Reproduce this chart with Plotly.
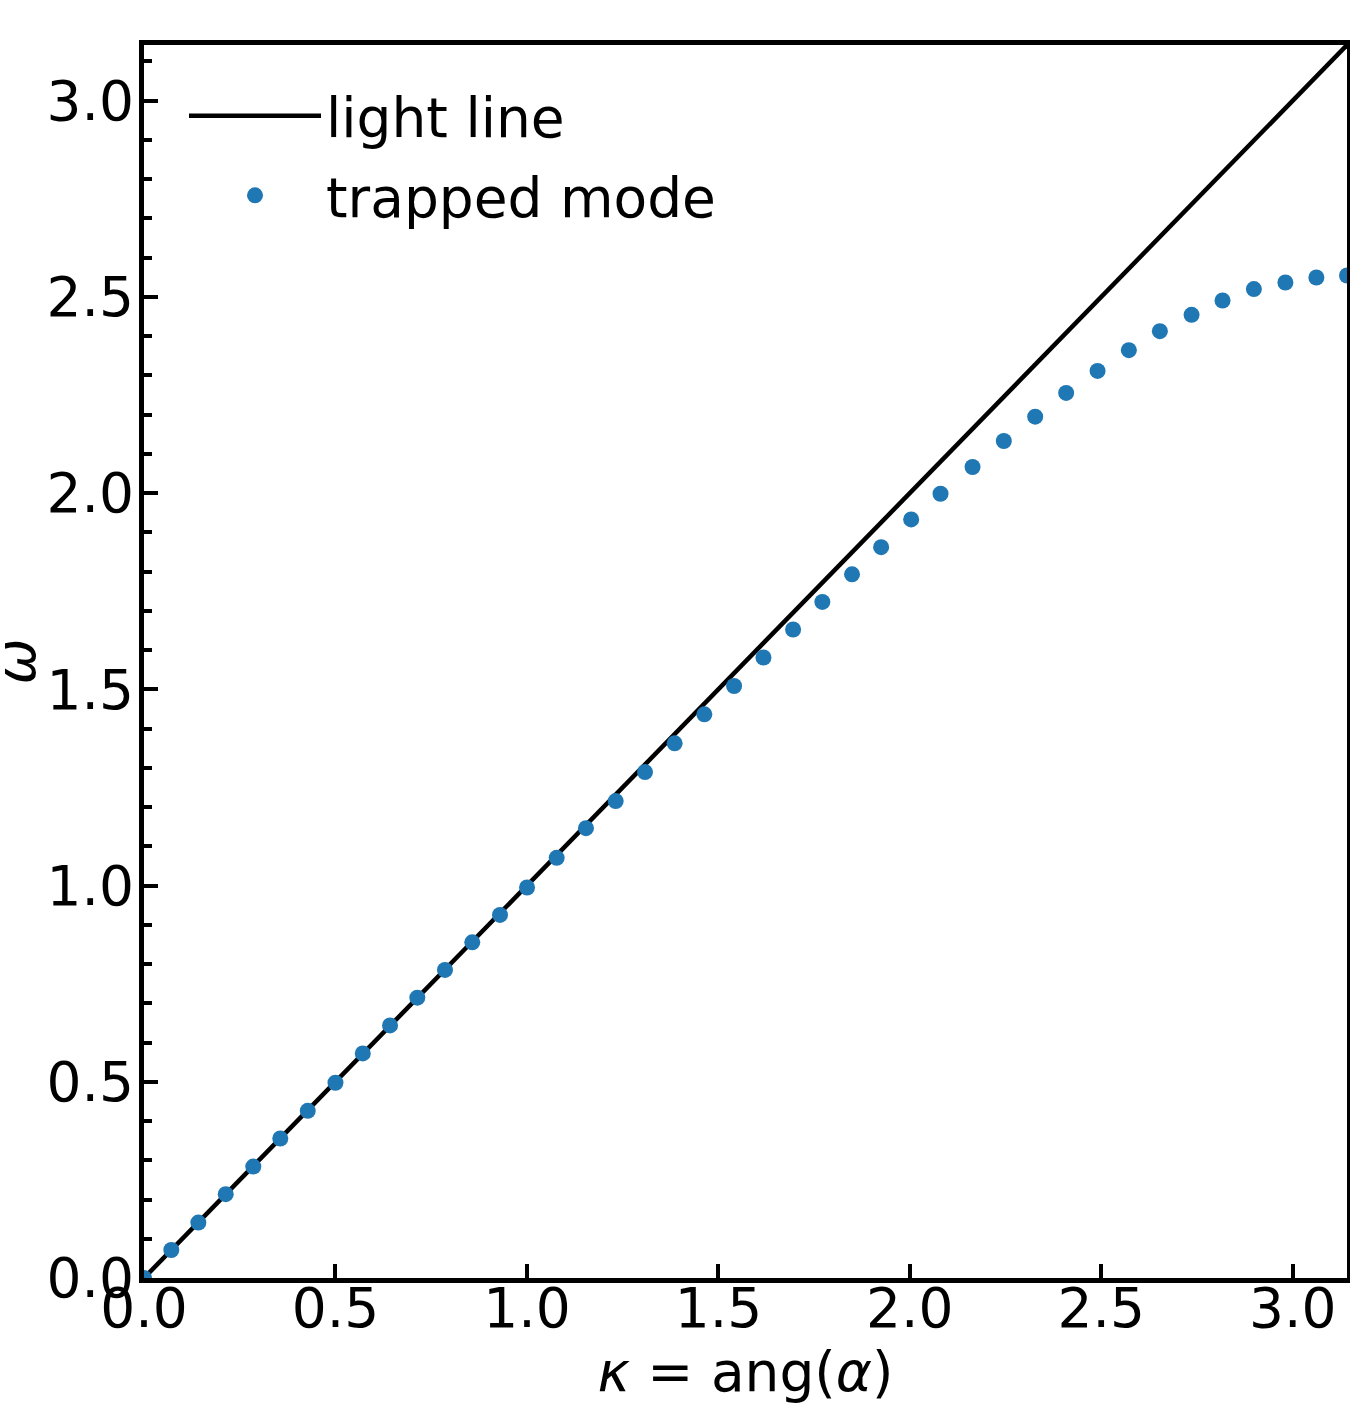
import math
import plotly.graph_objects as go

# ---- data ----
light_x = [0.0, math.pi]
light_y = [0.0, math.pi]

mode_kappa = [0.0, 0.0713, 0.1419, 0.2134, 0.2854, 0.3559, 0.4276, 0.5000, 0.5713, 0.6425,
              0.7138, 0.7860, 0.8573, 0.9297, 1.0003, 1.0777, 1.1542, 1.2318, 1.3084,
              1.3858, 1.4633, 1.5410, 1.6177, 1.6951, 1.7715, 1.8490, 1.9250, 2.0034,
              2.0801, 2.1637, 2.2454, 2.3273, 2.4082, 2.4902, 2.5719, 2.6529, 2.7357,
              2.8166, 2.8984, 2.9807, 3.0616, 3.1416]
mode_omega = [0.0, 0.0714, 0.1411, 0.2135, 0.2840, 0.3554, 0.4260, 0.4974, 0.5722, 0.6436,
              0.7143, 0.7849, 0.8553, 0.9252, 0.9949, 1.0706, 1.1462, 1.2151, 1.2890,
              1.3622, 1.4362, 1.5084, 1.5809, 1.6523, 1.7227, 1.7930, 1.8620, 1.9329,
              1.9982, 2.0663, 2.1327, 2.1946, 2.2551, 2.3112, 2.3640, 2.4125, 2.4541,
              2.4906, 2.5196, 2.5365, 2.5492, 2.5543]

x_ticks = [0.0, 0.5, 1.0, 1.5, 2.0, 2.5, 3.0]
y_ticks = [0.0, 0.5, 1.0, 1.5, 2.0, 2.5, 3.0]

FONT = "DejaVu Sans"
FS = 55

fig = go.Figure()
fig.add_trace(go.Scatter(x=light_x, y=light_y, mode="lines", name="light line",
                         legendgroup="a",
                         line=dict(color="black", width=4.5)))
fig.add_trace(go.Scatter(x=mode_kappa, y=mode_omega, mode="markers", name="trapped mode",
                         legendgroup="b",
                         marker=dict(color="#1f77b4", size=16, line=dict(width=0)),
                         cliponaxis=True))

axis_common = dict(
    range=[0, math.pi],
    showline=True, linecolor="black", linewidth=5, mirror=True,
    ticks="inside", ticklen=14, tickwidth=3.5, tickcolor="black",
    showgrid=False, zeroline=False,
    tickfont=dict(family=FONT, size=FS, color="black"),
    tickformat=".1f",
)

fig.update_xaxes(**axis_common, tickvals=x_ticks, ticklabelstandoff=-22,
                 title=dict(text="<i>κ</i> = ang(<i>α</i>)",
                            font=dict(family=FONT, size=FS, color="black"),
                            standoff=0))
fig.update_yaxes(**axis_common, tickvals=y_ticks, ticklabelstandoff=-6,
                 minor=dict(dtick=0.1, tick0=0, ticks="inside", ticklen=8,
                            tickwidth=3.5, tickcolor="black", showgrid=False))

fig.add_annotation(text="<i>ω</i>", xref="paper", yref="paper",
                   x=(15 - 144) / 1203, y=0.5, xanchor="center", yanchor="middle",
                   textangle=-90, showarrow=False,
                   font=dict(family=FONT, size=FS, color="black"))

fig.update_layout(
    width=1350, height=1404,
    margin=dict(l=144, r=3, t=45, b=126, autoexpand=False),
    plot_bgcolor="white", paper_bgcolor="white",
    font=dict(family=FONT, size=FS, color="black"),
    legend=dict(x=(184 - 144) / 1203, y=0.9768, xanchor="left", yanchor="top",
                bgcolor="rgba(0,0,0,0)", font=dict(family=FONT, size=FS, color="black"),
                itemwidth=132, tracegroupgap=5),
    showlegend=True,
)

fig.write_html("out.html")
